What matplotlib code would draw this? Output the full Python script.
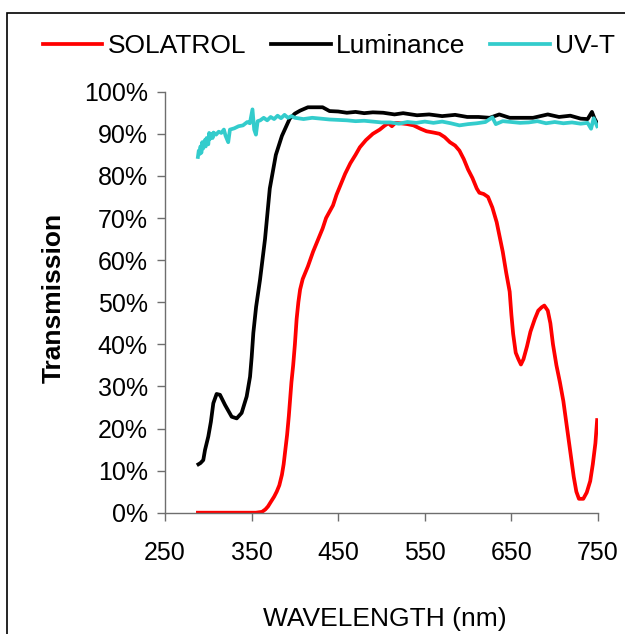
#!/usr/bin/env python3
"""Transmission spectra of three films: SOLATROL, Luminance, UV-T"""

import matplotlib
matplotlib.use('Agg')
import matplotlib.pyplot as plt
import matplotlib.patches as patches
from matplotlib.ticker import PercentFormatter

plt.rcParams['font.family'] = ['Liberation Sans', 'DejaVu Sans']

# SOLATROL (red)
sol_wl = [288, 300, 320, 340, 355, 362, 366, 369, 372, 376, 379, 382, 385, 387, 389,
          391, 393, 394.5, 396, 398, 400, 402, 404, 406, 409, 415, 421, 427, 432, 436,
          440, 444, 448, 452, 458, 464, 470, 475, 482, 490, 498, 504, 508, 512, 516,
          522, 530, 537, 545, 552, 560, 567, 573, 579, 585, 590, 595, 600, 605, 610,
          613, 618, 623, 628, 633, 637, 640, 644, 648, 650, 652, 655, 658, 661, 664,
          668, 672, 677, 681, 685, 688, 692, 695, 698, 702, 706, 710, 714, 718, 722,
          725, 728, 733, 737, 741, 744, 747, 749]
sol_t = [0, 0, 0, 0, 0, 0.2, 0.8, 1.5, 2.5, 3.8, 5, 6.5, 9, 11.5, 15,
         18.5, 23, 27, 31, 35, 40, 46, 50, 53, 55.5, 58.5, 62, 65, 67.5, 70,
         71.5, 73, 75.5, 77.5, 80.5, 83, 85, 86.8, 88.5, 90, 91, 92, 92.5, 91.8, 92.6,
         92.5, 92.3, 92, 91.2, 90.6, 90.3, 90, 89.2, 88, 87.2, 86, 84, 81.5, 79.5, 77,
         76, 75.7, 75, 72.5, 69, 65, 62, 57, 52.5, 47, 42.5, 38, 36.5, 35.2, 36.5,
         39.5, 43, 46, 48, 48.8, 49.2, 48, 45, 40, 35, 31, 26.5, 20.5, 14.5, 8.5,
         5, 3.3, 3.3, 4.8, 7.5, 11.5, 16.5, 22]

# Luminance (black)
lum_wl = [288.6, 291, 294.2, 296.2, 300, 303, 305.8, 309.6, 313.5, 319.3, 327, 332.8,
          338.5, 344.3, 348.2, 350.1, 352, 355.2, 359.7, 365.5, 371, 378, 385, 394,
          400, 406, 415, 432, 440, 450, 460, 470, 480, 490, 502, 515, 525, 541, 555,
          570, 585, 599, 612, 625, 636, 648, 660, 675, 692, 705, 718, 730, 738, 743,
          746, 749]
lum_t = [11.5, 11.8, 12.5, 14.9, 18.1, 21.6, 26, 28.2, 28, 25.6, 22.8, 22.4,
         23.7, 27.6, 32.3, 37, 42.7, 48.9, 55.3, 65, 77, 85, 89.5, 93.6,
         94.8, 95.5, 96.3, 96.3, 95.4, 95.3, 95.0, 95.2, 94.9, 95.1, 95.0, 94.6, 94.9, 94.4, 94.6,
         94.2, 94.5, 94.0, 94.0, 93.8, 94.6, 93.8, 93.8, 93.8, 94.6, 94.0, 94.3, 93.6, 93.5, 95.2,
         93.6, 92.5]

# UV-T (turquoise)
uvt_wl = [288, 289, 290, 291, 292, 293, 294, 296, 297, 298, 300, 301, 302, 304, 305,
          306, 309, 312, 315, 318, 320, 323, 325, 330, 335, 340, 345, 348, 351, 353,
          355, 357, 360, 364, 368, 372, 376, 380, 384, 388, 392, 396, 400, 410, 420,
          430, 440, 450, 460, 470, 480, 490, 500, 510, 520, 530, 540, 550, 560, 570,
          580, 590, 600, 610, 620, 628, 632, 640, 650, 660, 670, 680, 690, 700, 710,
          720, 730, 738, 742, 745, 749]
uvt_t = [84.5, 86.0, 85.2, 87.0, 85.5, 88.0, 86.5, 88.5, 87.0, 89.0, 87.5, 90.2, 88.8, 90.0, 89.0,
         90.3, 89.8, 90.5, 90.2, 91, 89.5, 88, 91, 91.3, 91.8, 92, 92.8, 92.5, 95.8, 91,
         89.8, 93, 93.2, 93.8, 93.2, 94, 93.5, 94.3, 93.7, 94.5, 93.8, 94.2, 93.8, 93.5, 93.8,
         93.6, 93.4, 93.3, 93.2, 93.0, 93.1, 92.9, 92.7, 92.7, 92.4, 92.8, 92.6, 92.9, 92.6, 92.9,
         92.5, 92.0, 92.3, 92.5, 92.8, 93.9, 92.3, 93, 92.8, 92.6, 92.7, 93, 92.5, 92.8, 92.5,
         92.7, 92.4, 92.6, 91.2, 93.7, 91.8]

X_TICKS = [250, 350, 450, 550, 650, 750]
Y_TICKS = [0, 0.1, 0.2, 0.3, 0.4, 0.5, 0.6, 0.7, 0.8, 0.9, 1.0]

W, H = 625, 634
fig = plt.figure(figsize=(W / 100, H / 100), dpi=100)
ax = fig.add_axes([165 / W, 1 - 512.7 / H, 433 / W, 421 / H])

lw = 2.7
ax.plot(sol_wl, [v / 100 for v in sol_t], color='#ff0000', lw=lw, label='SOLATROL')
ax.plot(lum_wl, [v / 100 for v in lum_t], color='#000000', lw=lw, label='Luminance')
ax.plot(uvt_wl, [v / 100 for v in uvt_t], color='#33cccc', lw=lw, label='UV-T')

ax.set_xlim(250, 750)
ax.set_ylim(0, 1)
ax.set_xticks(X_TICKS)
ax.set_yticks(Y_TICKS)
ax.yaxis.set_major_formatter(PercentFormatter(1.0, decimals=0))

axis_gray = '#6e6e6e'
for side in ['top', 'right']:
    ax.spines[side].set_visible(False)
for side in ['left', 'bottom']:
    ax.spines[side].set_color(axis_gray)
    ax.spines[side].set_linewidth(1.0)
ax.tick_params(axis='both', direction='out', length=5.5, width=1.0, color=axis_gray,
               labelsize=18, labelcolor='black')
ax.tick_params(axis='x', pad=15)
ax.tick_params(axis='y', pad=7)

fig.text(54 / W, 1 - 298 / H, 'Transmission', rotation=90, ha='center', va='center',
         fontsize=19, fontweight='bold')
fig.text(385 / W, 1 - 626 / H, 'WAVELENGTH (nm)', ha='center', va='baseline',
         fontsize=19)

fig.legend(loc='center left', bbox_to_anchor=(43 / W, 1 - 46 / H), ncol=3,
           frameon=False, fontsize=19, handlelength=2.25, handletextpad=0.2,
           columnspacing=0.95, borderpad=0, borderaxespad=0)

# outer chart border (runs off the right and bottom edges)
fig.add_artist(patches.Rectangle((7 / W, -0.1), 1.2, 1.1 - 13 / H,
                                 transform=fig.transFigure, fill=False,
                                 edgecolor='black', linewidth=1.2))

fig.savefig('out.png', dpi=100, facecolor='white')
